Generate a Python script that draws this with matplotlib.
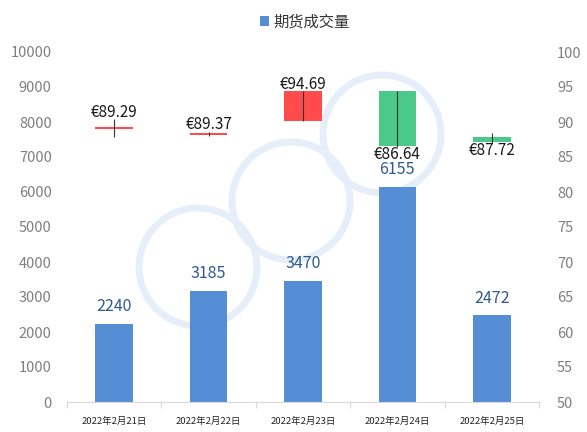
import matplotlib
matplotlib.use('Agg')
import matplotlib.pyplot as plt
from matplotlib.patches import Ellipse, Patch
import numpy as np

plt.rcParams['font.family'] = ['Noto Sans CJK SC', 'DejaVu Sans']

# ---------------- data ----------------
dates = ['2022年2月21日', '2022年2月22日', '2022年2月23日', '2022年2月24日', '2022年2月25日']
volume = [2240, 3185, 3470, 6155, 2472]
price_open = [89.0, 88.2, 90.2, 94.4, 87.9]
price_close = [89.29, 88.4, 94.4, 86.6, 87.1]
price_high = [90.4, 88.6, 94.4, 94.4, 88.4]
price_low = [87.8, 88.0, 90.2, 86.4, 87.0]
price_labels = ['€89.29', '€89.37', '€94.69', '€86.64', '€87.72']
legend_label = '期货成交量'
left_ticks = [0, 1000, 2000, 3000, 4000, 5000, 6000, 7000, 8000, 9000, 10000]
right_ticks = [50, 55, 60, 65, 70, 75, 80, 85, 90, 95, 100]

# ---------------- style ----------------
W, H = 587, 432
bar_color = '#558ED5'
up_color = '#FF4B4B'
down_color = '#4CC98A'
tick_color = '#7F7F7F'
axis_color = '#D9D9D9'

fig = plt.figure(figsize=(W / 100, H / 100), dpi=100)
ax = fig.add_axes([67 / W, 1 - 402 / H, (539 - 67) / W, (402 - 52) / H])
ax.patch.set_facecolor('none')
ax2 = ax.twinx()

# faint watermark rings (decoration)
for cx, cy in [(198, 267), (291, 201), (382, 134)]:
    e = Ellipse((cx / W, 1 - cy / H), 2 * 59 / W, 2 * 59 / H, transform=fig.transFigure,
                fill=False, edgecolor='#E6EFF9', linewidth=5, zorder=-1)
    fig.add_artist(e)

x = np.arange(len(dates))
bw = 0.4
ax.bar(x, volume, width=bw, color=bar_color, zorder=2, label=legend_label)
for xi, v in zip(x, volume):
    ax.annotate(f'{v}', (xi, v), xytext=(0, 6), textcoords='offset points',
                ha='center', va='bottom', fontsize=11.5, color='#2E5A8C')

ax.set_xlim(-0.5, len(dates) - 0.5)
ax.set_ylim(0, 10000)
ax.set_yticks(left_ticks)
ax.set_xticks(x)
ax.set_xticklabels(dates, fontsize=6.8, color='#222222')
ax.set_xticks(np.arange(-0.5, len(dates), 1.0), minor=True)
ax.tick_params(axis='x', which='major', length=0, pad=11)
ax.tick_params(axis='x', which='minor', length=4, color=axis_color, width=0.8)
ax.tick_params(axis='y', length=0, pad=11, labelsize=10.5, labelcolor=tick_color)
for s in ['top', 'left', 'right']:
    ax.spines[s].set_visible(False)
ax.spines['bottom'].set_color(axis_color)
ax.spines['bottom'].set_linewidth(0.8)

# candlesticks on secondary axis
ax2.set_ylim(50, 100)
ax2.set_yticks(right_ticks)
ax2.tick_params(axis='y', length=0, pad=13, labelsize=10.5, labelcolor=tick_color)
for s in ['top', 'left', 'right', 'bottom']:
    ax2.spines[s].set_visible(False)
for xi, o, c, h, l, lab in zip(x, price_open, price_close, price_high, price_low, price_labels):
    col = up_color if c >= o else down_color
    ax2.bar(xi, c - o, bottom=o, width=bw, color=col, zorder=3)
    ax2.vlines(xi, l, h, color='#333333', linewidth=0.8, zorder=4)
    if c >= o:
        ax2.annotate(lab, (xi, max(h, c)), xytext=(0, -1), textcoords='offset points',
                     ha='center', va='bottom', fontsize=11, color='#1A1A1A', zorder=5)
    else:
        ax2.annotate(lab, (xi, min(l, c)), xytext=(0, 1), textcoords='offset points',
                     ha='center', va='top', fontsize=11, color='#1A1A1A', zorder=5)

handles = [Patch(facecolor=bar_color, label=legend_label)]
fig.legend(handles=handles, loc='center', bbox_to_anchor=(305 / W, 1 - 22 / H),
           frameon=False, fontsize=11, handlelength=0.6, handleheight=0.6,
           handletextpad=0.3, labelcolor='#333333')

fig.savefig('out.png', dpi=100)
